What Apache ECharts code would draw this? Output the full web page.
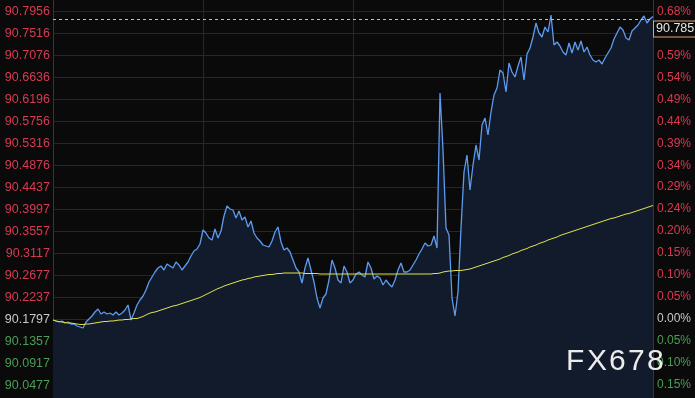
<!DOCTYPE html>
<html>
<head>
<meta charset="utf-8">
<script src="https://cdn.jsdelivr.net/npm/echarts@6/dist/echarts.min.js"></script>
<style>
html,body{margin:0;padding:0;background:#0a0a0a;}
#c{width:695px;height:398px;}
</style>
</head>
<body>
<div id="c"></div>
<script>
// ---- data ----
const prices = [
90.178,90.176,90.174,90.176,90.172,90.174,90.170,90.170,90.166,90.164,
90.162,90.174,90.180,90.186,90.194,90.200,90.190,90.194,90.190,90.192,
90.188,90.194,90.188,90.192,90.198,90.208,90.178,90.192,90.208,90.218,
90.226,90.238,90.254,90.264,90.274,90.282,90.286,90.278,90.290,90.286,
90.282,90.294,90.288,90.278,90.286,90.294,90.306,90.316,90.320,90.330,
90.358,90.352,90.342,90.338,90.360,90.342,90.356,90.386,90.406,90.400,
90.398,90.382,90.396,90.378,90.384,90.364,90.376,90.352,90.342,90.336,
90.328,90.326,90.324,90.336,90.354,90.364,90.334,90.318,90.322,90.314,
90.298,90.282,90.274,90.252,90.282,90.302,90.278,90.254,90.222,90.202,
90.222,90.230,90.258,90.298,90.282,90.258,90.252,90.286,90.274,90.252,
90.258,90.270,90.274,90.268,90.264,90.294,90.282,90.260,90.266,90.262,
90.248,90.258,90.250,90.244,90.258,90.278,90.292,90.274,90.274,90.278,
90.288,90.298,90.310,90.320,90.332,90.326,90.328,90.346,90.322,90.632,
90.518,90.362,90.348,90.222,90.186,90.234,90.362,90.474,90.508,90.438,
90.488,90.528,90.498,90.568,90.582,90.548,90.594,90.628,90.642,90.678,
90.672,90.634,90.692,90.674,90.664,90.686,90.704,90.658,90.710,90.722,
90.744,90.772,90.752,90.744,90.764,90.754,90.788,90.728,90.734,90.726,
90.714,90.708,90.732,90.712,90.734,90.718,90.736,90.714,90.724,90.708,
90.698,90.694,90.698,90.690,90.702,90.712,90.722,90.740,90.752,90.764,
90.758,90.742,90.738,90.756,90.762,90.768,90.778,90.786,90.772,90.780,
90.785
];
const average = [
90.178,90.176,90.175,90.174,90.173,90.172,90.172,90.171,90.170,90.169,
90.169,90.170,90.170,90.171,90.172,90.173,90.174,90.175,90.175,90.176,
90.176,90.177,90.178,90.178,90.179,90.179,90.180,90.181,90.181,90.183,
90.185,90.188,90.191,90.193,90.194,90.196,90.198,90.200,90.202,90.204,
90.206,90.207,90.209,90.211,90.213,90.215,90.217,90.219,90.221,90.223,
90.226,90.229,90.232,90.235,90.238,90.241,90.243,90.246,90.248,90.250,
90.252,90.254,90.256,90.258,90.259,90.261,90.262,90.264,90.265,90.266,
90.267,90.268,90.269,90.269,90.270,90.271,90.271,90.272,90.272,90.272,
90.272,90.272,90.272,90.272,90.271,90.271,90.271,90.271,90.271,90.270,
90.270,90.270,90.270,90.270,90.270,90.270,90.270,90.270,90.270,90.270,
90.270,90.270,90.270,90.270,90.270,90.270,90.270,90.270,90.270,90.270,
90.270,90.270,90.270,90.270,90.270,90.270,90.270,90.270,90.270,90.270,
90.270,90.270,90.270,90.270,90.270,90.270,90.270,90.271,90.271,90.272,
90.274,90.275,90.276,90.276,90.277,90.277,90.277,90.278,90.279,90.280,
90.282,90.284,90.286,90.288,90.290,90.292,90.294,90.296,90.298,90.300,
90.303,90.305,90.307,90.310,90.312,90.314,90.317,90.319,90.321,90.324,
90.326,90.328,90.331,90.333,90.335,90.338,90.340,90.342,90.344,90.347,
90.349,90.351,90.353,90.355,90.357,90.359,90.361,90.363,90.365,90.367,
90.369,90.371,90.373,90.375,90.377,90.379,90.381,90.382,90.384,90.386,
90.388,90.390,90.391,90.393,90.395,90.397,90.399,90.401,90.403,90.405,
90.407
];
const leftTicks = [90.7956,90.7516,90.7076,90.6636,90.6196,90.5756,90.5316,90.4876,90.4437,
                   90.3997,90.3557,90.3117,90.2677,90.2237,90.1797,90.1357,90.0917,90.0477];
const rightLabels = ['0.68%','0.63%','0.59%','0.54%','0.49%','0.44%','0.39%','0.34%','0.29%',
                     '0.24%','0.20%','0.15%','0.10%','0.05%','0.00%','0.05%','0.10%','0.15%'];
const baseValue = 90.1797;
const lastPrice = 90.785;
const watermark = 'FX678';
const categories = prices.map((_, i) => i);

// ---- chart ----
const RED = '#d93a52', GREEN = '#4a9e56', NEUTRAL = '#c8c8c8';
function tickColor(v) {
  const d = Math.round((v - baseValue) * 10000);
  return d > 0 ? RED : (d < 0 ? GREEN : NEUTRAL);
}
const yMin = 90.022, yMax = 90.818;
const gridLine = {show: true, lineStyle: {color: '#24272c', width: 1}};

// watermark characters, spaced out
const wmFont = '30px "Liberation Sans", Arial, sans-serif';
const wmX = [566, 587, 609, 628, 647];
const wmGraphics = watermark.split('').map((ch, k) => ({
  type: 'text', left: wmX[k], top: 347, z: 100,
  style: {text: ch, fill: '#ececec', font: wmFont}
}));

const chart = echarts.init(document.getElementById('c'), null, {renderer: 'canvas'});
chart.setOption({
  backgroundColor: '#0a0a0a',
  animation: false,
  grid: {left: 53, right: 42, top: 0, bottom: 0, containLabel: false},
  xAxis: {
    type: 'category', data: categories, boundaryGap: false,
    axisLine: {show: false}, axisTick: {show: false}, axisLabel: {show: false},
    splitLine: {show: true, interval: (i) => i > 0 && i < categories.length - 1 && i % 50 === 0,
                lineStyle: {color: '#24272c'}}
  },
  yAxis: [{
    type: 'value', min: yMin, max: yMax, position: 'left',
    axisLine: {show: true, lineStyle: {color: '#33363b'}},
    axisTick: {show: false, customValues: leftTicks},
    splitLine: gridLine,
    axisLabel: {
      customValues: leftTicks, margin: 3,
      fontFamily: 'Liberation Sans, Arial, sans-serif', fontSize: 12.5,
      color: (v) => tickColor(v),
      formatter: (v) => {
        const k = leftTicks.findIndex(t => Math.abs(t - v) < 1e-6);
        return k >= 0 ? leftTicks[k].toFixed(4) : '';
      }
    }
  }, {
    type: 'value', min: yMin, max: yMax, position: 'right',
    axisLine: {show: true, lineStyle: {color: '#33363b'}},
    axisTick: {show: false, customValues: leftTicks},
    splitLine: {show: false},
    axisLabel: {
      customValues: leftTicks, margin: 4,
      fontFamily: 'Liberation Sans, Arial, sans-serif', fontSize: 12,
      color: (v) => tickColor(v),
      formatter: (v) => {
        const k = leftTicks.findIndex(t => Math.abs(t - v) < 1e-6);
        return k >= 0 ? rightLabels[k] : '';
      }
    }
  }],
  series: [{
    type: 'line', data: prices, yAxisIndex: 0, symbol: 'none', z: 3,
    lineStyle: {color: '#5c9bf0', width: 1.3},
    areaStyle: {color: '#121b2b', opacity: 1, origin: 'start'},
    markLine: {
      silent: true, symbol: 'none',
      lineStyle: {color: '#f2b08c', type: [3, 3], width: 1},
      label: {
        show: true, position: 'end', distance: 1, offset: [0, 10],
        formatter: () => lastPrice.toFixed(3),
        color: '#e6e6e6', fontSize: 12.5, fontFamily: 'Liberation Sans, Arial, sans-serif',
        backgroundColor: '#0a0a0a', borderColor: '#e2a27a', borderWidth: 1,
        padding: [1, 2, 1, 2]
      },
      data: [{yAxis: lastPrice}]
    }
  }, {
    type: 'line', data: average, yAxisIndex: 0, symbol: 'none', z: 4,
    lineStyle: {color: '#e2e24a', width: 1}
  }],
  graphic: wmGraphics
});
</script>
</body>
</html>
